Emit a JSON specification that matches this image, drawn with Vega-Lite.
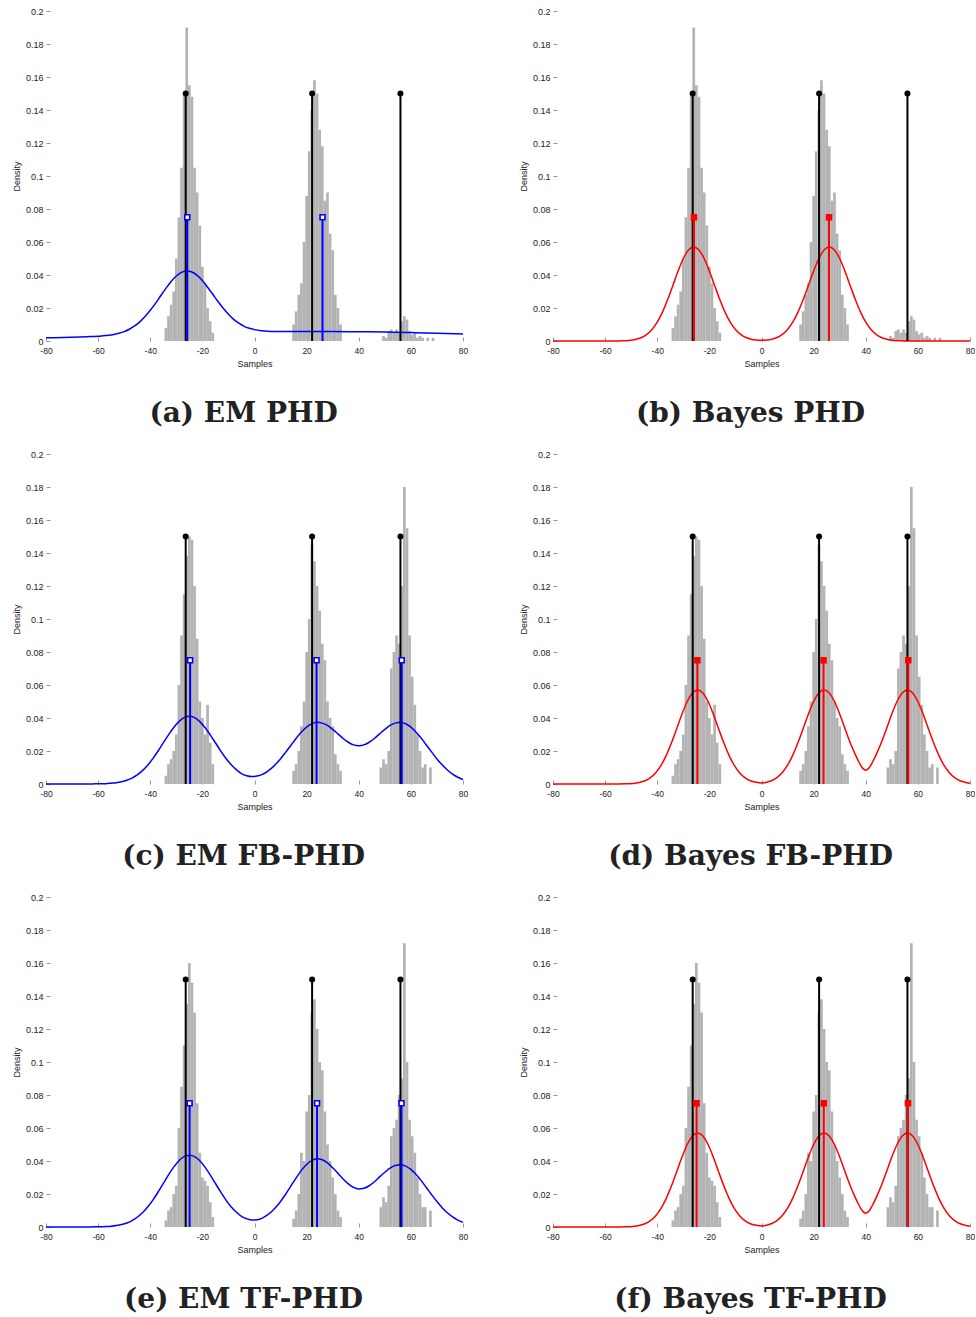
{
"$schema": "https://vega.github.io/schema/vega-lite/v6.json",
"padding": {"left": 12, "top": 7, "right": 0, "bottom": 0},
"config": {"view": {"stroke": null}, "font": "Liberation Sans"},
"data": {"values": [
{"k":"h","p":["a","b"],"x":-34,"y":0.008},{"k":"h","p":["a","b"],"x":-33,"y":0.015},{"k":"h","p":["a","b"],"x":-32,"y":0.022},{"k":"h","p":["a","b"],"x":-31,"y":0.03},{"k":"h","p":["a","b"],"x":-30,"y":0.05},{"k":"h","p":["a","b"],"x":-29,"y":0.075},{"k":"h","p":["a","b"],"x":-28,"y":0.105},{"k":"h","p":["a","b"],"x":-27,"y":0.15},{"k":"h","p":["a","b"],"x":-26,"y":0.19},{"k":"h","p":["a","b"],"x":-25,"y":0.155},{"k":"h","p":["a","b"],"x":-24,"y":0.148},{"k":"h","p":["a","b"],"x":-23,"y":0.105},{"k":"h","p":["a","b"],"x":-22,"y":0.09},{"k":"h","p":["a","b"],"x":-21,"y":0.07},{"k":"h","p":["a","b"],"x":-20,"y":0.045},{"k":"h","p":["a","b"],"x":-19,"y":0.035},{"k":"h","p":["a","b"],"x":-18,"y":0.02},{"k":"h","p":["a","b"],"x":-17,"y":0.012},{"k":"h","p":["a","b"],"x":-16,"y":0.005},
{"k":"h","p":["a","b"],"x":15,"y":0.01},{"k":"h","p":["a","b"],"x":16,"y":0.018},{"k":"h","p":["a","b"],"x":17,"y":0.028},{"k":"h","p":["a","b"],"x":18,"y":0.035},{"k":"h","p":["a","b"],"x":19,"y":0.06},{"k":"h","p":["a","b"],"x":20,"y":0.088},{"k":"h","p":["a","b"],"x":21,"y":0.115},{"k":"h","p":["a","b"],"x":22,"y":0.14},{"k":"h","p":["a","b"],"x":23,"y":0.158},{"k":"h","p":["a","b"],"x":24,"y":0.15},{"k":"h","p":["a","b"],"x":25,"y":0.128},{"k":"h","p":["a","b"],"x":26,"y":0.118},{"k":"h","p":["a","b"],"x":27,"y":0.085},{"k":"h","p":["a","b"],"x":28,"y":0.09},{"k":"h","p":["a","b"],"x":29,"y":0.065},{"k":"h","p":["a","b"],"x":30,"y":0.055},{"k":"h","p":["a","b"],"x":31,"y":0.028},{"k":"h","p":["a","b"],"x":32,"y":0.02},{"k":"h","p":["a","b"],"x":33,"y":0.01},
{"k":"h","p":["a","b"],"x":49.5,"y":0.003},{"k":"h","p":["a","b"],"x":50.5,"y":0.002},{"k":"h","p":["a","b"],"x":51.5,"y":0.006},{"k":"h","p":["a","b"],"x":52.5,"y":0.007},{"k":"h","p":["a","b"],"x":53.5,"y":0.005},{"k":"h","p":["a","b"],"x":54.5,"y":0.007},{"k":"h","p":["a","b"],"x":55.5,"y":0.005},{"k":"h","p":["a","b"],"x":56.5,"y":0.012},{"k":"h","p":["a","b"],"x":57.5,"y":0.015},{"k":"h","p":["a","b"],"x":58.5,"y":0.013},{"k":"h","p":["a","b"],"x":59.5,"y":0.006},{"k":"h","p":["a","b"],"x":60.5,"y":0.004},{"k":"h","p":["a","b"],"x":61.5,"y":0.005},{"k":"h","p":["a","b"],"x":62.5,"y":0.002},{"k":"h","p":["a","b"],"x":63.5,"y":0.003},{"k":"h","p":["a","b"],"x":64.5,"y":0.002},{"k":"h","p":["a","b"],"x":66.5,"y":0.002},{"k":"h","p":["a","b"],"x":68.5,"y":0.002},
{"k":"h","p":["c","d"],"x":-34,"y":0.005},{"k":"h","p":["c","d"],"x":-33,"y":0.012},{"k":"h","p":["c","d"],"x":-32,"y":0.015},{"k":"h","p":["c","d"],"x":-31,"y":0.02},{"k":"h","p":["c","d"],"x":-30,"y":0.03},{"k":"h","p":["c","d"],"x":-29,"y":0.06},{"k":"h","p":["c","d"],"x":-28,"y":0.09},{"k":"h","p":["c","d"],"x":-27,"y":0.115},{"k":"h","p":["c","d"],"x":-26,"y":0.138},{"k":"h","p":["c","d"],"x":-25,"y":0.15},{"k":"h","p":["c","d"],"x":-24,"y":0.148},{"k":"h","p":["c","d"],"x":-23,"y":0.12},{"k":"h","p":["c","d"],"x":-22,"y":0.088},{"k":"h","p":["c","d"],"x":-21,"y":0.05},{"k":"h","p":["c","d"],"x":-20,"y":0.04},{"k":"h","p":["c","d"],"x":-19,"y":0.03},{"k":"h","p":["c","d"],"x":-18,"y":0.048},{"k":"h","p":["c","d"],"x":-17,"y":0.025},{"k":"h","p":["c","d"],"x":-16,"y":0.012},
{"k":"h","p":["c","d"],"x":15,"y":0.008},{"k":"h","p":["c","d"],"x":16,"y":0.012},{"k":"h","p":["c","d"],"x":17,"y":0.02},{"k":"h","p":["c","d"],"x":18,"y":0.035},{"k":"h","p":["c","d"],"x":19,"y":0.05},{"k":"h","p":["c","d"],"x":20,"y":0.08},{"k":"h","p":["c","d"],"x":21,"y":0.1},{"k":"h","p":["c","d"],"x":22,"y":0.145},{"k":"h","p":["c","d"],"x":23,"y":0.135},{"k":"h","p":["c","d"],"x":24,"y":0.12},{"k":"h","p":["c","d"],"x":25,"y":0.105},{"k":"h","p":["c","d"],"x":26,"y":0.085},{"k":"h","p":["c","d"],"x":27,"y":0.075},{"k":"h","p":["c","d"],"x":28,"y":0.05},{"k":"h","p":["c","d"],"x":29,"y":0.04},{"k":"h","p":["c","d"],"x":30,"y":0.035},{"k":"h","p":["c","d"],"x":31,"y":0.018},{"k":"h","p":["c","d"],"x":32,"y":0.012},{"k":"h","p":["c","d"],"x":33,"y":0.008},
{"k":"h","p":["c","d"],"x":48.5,"y":0.01},{"k":"h","p":["c","d"],"x":49.5,"y":0.015},{"k":"h","p":["c","d"],"x":50.5,"y":0.012},{"k":"h","p":["c","d"],"x":51.5,"y":0.02},{"k":"h","p":["c","d"],"x":52.5,"y":0.07},{"k":"h","p":["c","d"],"x":53.5,"y":0.08},{"k":"h","p":["c","d"],"x":54.5,"y":0.09},{"k":"h","p":["c","d"],"x":55.5,"y":0.085},{"k":"h","p":["c","d"],"x":56.5,"y":0.12},{"k":"h","p":["c","d"],"x":57.5,"y":0.18},{"k":"h","p":["c","d"],"x":58.5,"y":0.155},{"k":"h","p":["c","d"],"x":59.5,"y":0.09},{"k":"h","p":["c","d"],"x":60.5,"y":0.065},{"k":"h","p":["c","d"],"x":61.5,"y":0.048},{"k":"h","p":["c","d"],"x":62.5,"y":0.03},{"k":"h","p":["c","d"],"x":63.5,"y":0.02},{"k":"h","p":["c","d"],"x":64.5,"y":0.01},{"k":"h","p":["c","d"],"x":65.5,"y":0.012},{"k":"h","p":["c","d"],"x":67.5,"y":0.01},
{"k":"h","p":["e","f"],"x":-34,"y":0.004},{"k":"h","p":["e","f"],"x":-33,"y":0.01},{"k":"h","p":["e","f"],"x":-32,"y":0.012},{"k":"h","p":["e","f"],"x":-31,"y":0.02},{"k":"h","p":["e","f"],"x":-30,"y":0.025},{"k":"h","p":["e","f"],"x":-29,"y":0.06},{"k":"h","p":["e","f"],"x":-28,"y":0.085},{"k":"h","p":["e","f"],"x":-27,"y":0.11},{"k":"h","p":["e","f"],"x":-26,"y":0.135},{"k":"h","p":["e","f"],"x":-25,"y":0.16},{"k":"h","p":["e","f"],"x":-24,"y":0.148},{"k":"h","p":["e","f"],"x":-23,"y":0.13},{"k":"h","p":["e","f"],"x":-22,"y":0.075},{"k":"h","p":["e","f"],"x":-21,"y":0.045},{"k":"h","p":["e","f"],"x":-20,"y":0.03},{"k":"h","p":["e","f"],"x":-19,"y":0.028},{"k":"h","p":["e","f"],"x":-18,"y":0.025},{"k":"h","p":["e","f"],"x":-17,"y":0.015},{"k":"h","p":["e","f"],"x":-16,"y":0.006},
{"k":"h","p":["e","f"],"x":15,"y":0.005},{"k":"h","p":["e","f"],"x":16,"y":0.01},{"k":"h","p":["e","f"],"x":17,"y":0.02},{"k":"h","p":["e","f"],"x":18,"y":0.045},{"k":"h","p":["e","f"],"x":19,"y":0.04},{"k":"h","p":["e","f"],"x":20,"y":0.07},{"k":"h","p":["e","f"],"x":21,"y":0.08},{"k":"h","p":["e","f"],"x":22,"y":0.13},{"k":"h","p":["e","f"],"x":23,"y":0.138},{"k":"h","p":["e","f"],"x":24,"y":0.12},{"k":"h","p":["e","f"],"x":25,"y":0.1},{"k":"h","p":["e","f"],"x":26,"y":0.095},{"k":"h","p":["e","f"],"x":27,"y":0.07},{"k":"h","p":["e","f"],"x":28,"y":0.05},{"k":"h","p":["e","f"],"x":29,"y":0.04},{"k":"h","p":["e","f"],"x":30,"y":0.03},{"k":"h","p":["e","f"],"x":31,"y":0.02},{"k":"h","p":["e","f"],"x":32,"y":0.01},{"k":"h","p":["e","f"],"x":33,"y":0.006},
{"k":"h","p":["e","f"],"x":48.5,"y":0.012},{"k":"h","p":["e","f"],"x":49.5,"y":0.018},{"k":"h","p":["e","f"],"x":50.5,"y":0.015},{"k":"h","p":["e","f"],"x":51.5,"y":0.025},{"k":"h","p":["e","f"],"x":52.5,"y":0.055},{"k":"h","p":["e","f"],"x":53.5,"y":0.06},{"k":"h","p":["e","f"],"x":54.5,"y":0.065},{"k":"h","p":["e","f"],"x":55.5,"y":0.08},{"k":"h","p":["e","f"],"x":56.5,"y":0.09},{"k":"h","p":["e","f"],"x":57.5,"y":0.172},{"k":"h","p":["e","f"],"x":58.5,"y":0.1},{"k":"h","p":["e","f"],"x":59.5,"y":0.065},{"k":"h","p":["e","f"],"x":60.5,"y":0.055},{"k":"h","p":["e","f"],"x":61.5,"y":0.045},{"k":"h","p":["e","f"],"x":62.5,"y":0.03},{"k":"h","p":["e","f"],"x":63.5,"y":0.02},{"k":"h","p":["e","f"],"x":64.5,"y":0.012},{"k":"h","p":["e","f"],"x":65.5,"y":0.012},{"k":"h","p":["e","f"],"x":67.5,"y":0.01},

{"k":"c","p":["a"],"m":"E","x":-80,"y":0.0019},{"k":"c","p":["a"],"m":"E","x":-70,"y":0.0023},{"k":"c","p":["a"],"m":"E","x":-64,"y":0.0026},{"k":"c","p":["a"],"m":"E","x":-60,"y":0.0029},{"k":"c","p":["a"],"m":"E","x":-58,"y":0.0032},{"k":"c","p":["a"],"m":"E","x":-56,"y":0.0035},{"k":"c","p":["a"],"m":"E","x":-54,"y":0.004},{"k":"c","p":["a"],"m":"E","x":-52,"y":0.0047},{"k":"c","p":["a"],"m":"E","x":-50,"y":0.0057},{"k":"c","p":["a"],"m":"E","x":-48,"y":0.0071},{"k":"c","p":["a"],"m":"E","x":-46,"y":0.0091},{"k":"c","p":["a"],"m":"E","x":-44,"y":0.0116},{"k":"c","p":["a"],"m":"E","x":-42,"y":0.0148},{"k":"c","p":["a"],"m":"E","x":-40,"y":0.0186},{"k":"c","p":["a"],"m":"E","x":-38,"y":0.0228},{"k":"c","p":["a"],"m":"E","x":-36,"y":0.0274},{"k":"c","p":["a"],"m":"E","x":-34,"y":0.0319},{"k":"c","p":["a"],"m":"E","x":-32,"y":0.0361},{"k":"c","p":["a"],"m":"E","x":-30,"y":0.0394},{"k":"c","p":["a"],"m":"E","x":-28,"y":0.0416},{"k":"c","p":["a"],"m":"E","x":-26,"y":0.0424},{"k":"c","p":["a"],"m":"E","x":-24,"y":0.0418},{"k":"c","p":["a"],"m":"E","x":-22,"y":0.0398},{"k":"c","p":["a"],"m":"E","x":-20,"y":0.0367},{"k":"c","p":["a"],"m":"E","x":-18,"y":0.0326},{"k":"c","p":["a"],"m":"E","x":-16,"y":0.0283},{"k":"c","p":["a"],"m":"E","x":-14,"y":0.0239},{"k":"c","p":["a"],"m":"E","x":-12,"y":0.0198},{"k":"c","p":["a"],"m":"E","x":-10,"y":0.0162},{"k":"c","p":["a"],"m":"E","x":-8,"y":0.0131},{"k":"c","p":["a"],"m":"E","x":-6,"y":0.0108},{"k":"c","p":["a"],"m":"E","x":-4,"y":0.0089},{"k":"c","p":["a"],"m":"E","x":-2,"y":0.0077},{"k":"c","p":["a"],"m":"E","x":0,"y":0.0069},{"k":"c","p":["a"],"m":"E","x":2,"y":0.0063},{"k":"c","p":["a"],"m":"E","x":4,"y":0.006},{"k":"c","p":["a"],"m":"E","x":6,"y":0.0058},{"k":"c","p":["a"],"m":"E","x":8,"y":0.0057},{"k":"c","p":["a"],"m":"E","x":10,"y":0.0057},{"k":"c","p":["a"],"m":"E","x":20,"y":0.0057},{"k":"c","p":["a"],"m":"E","x":30,"y":0.0057},{"k":"c","p":["a"],"m":"E","x":40,"y":0.0056},{"k":"c","p":["a"],"m":"E","x":50,"y":0.0054},{"k":"c","p":["a"],"m":"E","x":60,"y":0.0051},{"k":"c","p":["a"],"m":"E","x":70,"y":0.0047},{"k":"c","p":["a"],"m":"E","x":80,"y":0.0042},

{"k":"c","p":["b"],"m":"B","x":-80,"y":0},{"k":"c","p":["b"],"m":"B","x":-56,"y":0},{"k":"c","p":["b"],"m":"B","x":-54,"y":0.0001},{"k":"c","p":["b"],"m":"B","x":-52,"y":0.0002},{"k":"c","p":["b"],"m":"B","x":-50,"y":0.0005},{"k":"c","p":["b"],"m":"B","x":-48,"y":0.0011},{"k":"c","p":["b"],"m":"B","x":-46,"y":0.0021},{"k":"c","p":["b"],"m":"B","x":-44,"y":0.004},{"k":"c","p":["b"],"m":"B","x":-42,"y":0.007},{"k":"c","p":["b"],"m":"B","x":-40,"y":0.0114},{"k":"c","p":["b"],"m":"B","x":-38,"y":0.0175},{"k":"c","p":["b"],"m":"B","x":-36,"y":0.0251},{"k":"c","p":["b"],"m":"B","x":-34,"y":0.0337},{"k":"c","p":["b"],"m":"B","x":-32,"y":0.0424},{"k":"c","p":["b"],"m":"B","x":-30,"y":0.05},{"k":"c","p":["b"],"m":"B","x":-28,"y":0.0552},{"k":"c","p":["b"],"m":"B","x":-26,"y":0.057},{"k":"c","p":["b"],"m":"B","x":-24,"y":0.0552},{"k":"c","p":["b"],"m":"B","x":-22,"y":0.05},{"k":"c","p":["b"],"m":"B","x":-20,"y":0.0424},{"k":"c","p":["b"],"m":"B","x":-18,"y":0.0337},{"k":"c","p":["b"],"m":"B","x":-16,"y":0.0251},{"k":"c","p":["b"],"m":"B","x":-14,"y":0.0175},{"k":"c","p":["b"],"m":"B","x":-12,"y":0.0114},{"k":"c","p":["b"],"m":"B","x":-10,"y":0.007},{"k":"c","p":["b"],"m":"B","x":-8,"y":0.004},{"k":"c","p":["b"],"m":"B","x":-6,"y":0.0021},{"k":"c","p":["b"],"m":"B","x":-4,"y":0.0011},{"k":"c","p":["b"],"m":"B","x":-2,"y":0.0006},{"k":"c","p":["b"],"m":"B","x":0,"y":0.0004},{"k":"c","p":["b"],"m":"B","x":2,"y":0.0006},{"k":"c","p":["b"],"m":"B","x":4,"y":0.0011},{"k":"c","p":["b"],"m":"B","x":6,"y":0.0021},{"k":"c","p":["b"],"m":"B","x":8,"y":0.004},{"k":"c","p":["b"],"m":"B","x":10,"y":0.007},{"k":"c","p":["b"],"m":"B","x":12,"y":0.0114},{"k":"c","p":["b"],"m":"B","x":14,"y":0.0175},{"k":"c","p":["b"],"m":"B","x":16,"y":0.0251},{"k":"c","p":["b"],"m":"B","x":18,"y":0.0337},{"k":"c","p":["b"],"m":"B","x":20,"y":0.0424},{"k":"c","p":["b"],"m":"B","x":22,"y":0.05},{"k":"c","p":["b"],"m":"B","x":24,"y":0.0552},{"k":"c","p":["b"],"m":"B","x":26,"y":0.057},{"k":"c","p":["b"],"m":"B","x":28,"y":0.0552},{"k":"c","p":["b"],"m":"B","x":30,"y":0.05},{"k":"c","p":["b"],"m":"B","x":32,"y":0.0424},{"k":"c","p":["b"],"m":"B","x":34,"y":0.0337},{"k":"c","p":["b"],"m":"B","x":36,"y":0.0251},{"k":"c","p":["b"],"m":"B","x":38,"y":0.0175},{"k":"c","p":["b"],"m":"B","x":40,"y":0.0114},{"k":"c","p":["b"],"m":"B","x":42,"y":0.007},{"k":"c","p":["b"],"m":"B","x":44,"y":0.004},{"k":"c","p":["b"],"m":"B","x":46,"y":0.0021},{"k":"c","p":["b"],"m":"B","x":48,"y":0.0011},{"k":"c","p":["b"],"m":"B","x":50,"y":0.0005},{"k":"c","p":["b"],"m":"B","x":52,"y":0.0002},{"k":"c","p":["b"],"m":"B","x":54,"y":0.0001},{"k":"c","p":["b"],"m":"B","x":56,"y":0},{"k":"c","p":["b"],"m":"B","x":80,"y":0},

{"k":"c","p":["c"],"m":"E","x":-80,"y":0},{"k":"c","p":["c"],"m":"E","x":-65,"y":0},{"k":"c","p":["c"],"m":"E","x":-61,"y":0.0001},{"k":"c","p":["c"],"m":"E","x":-57,"y":0.0002},{"k":"c","p":["c"],"m":"E","x":-55,"y":0.0005},{"k":"c","p":["c"],"m":"E","x":-53,"y":0.0008},{"k":"c","p":["c"],"m":"E","x":-51,"y":0.0014},{"k":"c","p":["c"],"m":"E","x":-49,"y":0.0023},{"k":"c","p":["c"],"m":"E","x":-47,"y":0.0036},{"k":"c","p":["c"],"m":"E","x":-45,"y":0.0055},{"k":"c","p":["c"],"m":"E","x":-43,"y":0.0081},{"k":"c","p":["c"],"m":"E","x":-41,"y":0.0114},{"k":"c","p":["c"],"m":"E","x":-39,"y":0.0154},{"k":"c","p":["c"],"m":"E","x":-37,"y":0.02},{"k":"c","p":["c"],"m":"E","x":-35,"y":0.0249},{"k":"c","p":["c"],"m":"E","x":-33,"y":0.0298},{"k":"c","p":["c"],"m":"E","x":-31,"y":0.0342},{"k":"c","p":["c"],"m":"E","x":-29,"y":0.0378},{"k":"c","p":["c"],"m":"E","x":-27,"y":0.0402},{"k":"c","p":["c"],"m":"E","x":-25,"y":0.041},{"k":"c","p":["c"],"m":"E","x":-23,"y":0.0402},{"k":"c","p":["c"],"m":"E","x":-21,"y":0.0378},{"k":"c","p":["c"],"m":"E","x":-19,"y":0.0342},{"k":"c","p":["c"],"m":"E","x":-17,"y":0.0298},{"k":"c","p":["c"],"m":"E","x":-15,"y":0.025},{"k":"c","p":["c"],"m":"E","x":-13,"y":0.0201},{"k":"c","p":["c"],"m":"E","x":-11,"y":0.0156},{"k":"c","p":["c"],"m":"E","x":-9,"y":0.0118},{"k":"c","p":["c"],"m":"E","x":-7,"y":0.0087},{"k":"c","p":["c"],"m":"E","x":-5,"y":0.0063},{"k":"c","p":["c"],"m":"E","x":-3,"y":0.005},{"k":"c","p":["c"],"m":"E","x":-1,"y":0.0045},{"k":"c","p":["c"],"m":"E","x":1,"y":0.0048},{"k":"c","p":["c"],"m":"E","x":3,"y":0.0058},{"k":"c","p":["c"],"m":"E","x":5,"y":0.0077},{"k":"c","p":["c"],"m":"E","x":7,"y":0.0102},{"k":"c","p":["c"],"m":"E","x":9,"y":0.0135},{"k":"c","p":["c"],"m":"E","x":10,"y":0.0153},{"k":"c","p":["c"],"m":"E","x":12,"y":0.0193},{"k":"c","p":["c"],"m":"E","x":14,"y":0.0235},{"k":"c","p":["c"],"m":"E","x":16,"y":0.0277},{"k":"c","p":["c"],"m":"E","x":18,"y":0.0315},{"k":"c","p":["c"],"m":"E","x":20,"y":0.0345},{"k":"c","p":["c"],"m":"E","x":22,"y":0.0365},{"k":"c","p":["c"],"m":"E","x":24,"y":0.0374},{"k":"c","p":["c"],"m":"E","x":26,"y":0.0369},{"k":"c","p":["c"],"m":"E","x":28,"y":0.0355},{"k":"c","p":["c"],"m":"E","x":30,"y":0.0331},{"k":"c","p":["c"],"m":"E","x":32,"y":0.0304},{"k":"c","p":["c"],"m":"E","x":34,"y":0.0276},{"k":"c","p":["c"],"m":"E","x":36,"y":0.0253},{"k":"c","p":["c"],"m":"E","x":38,"y":0.0237},{"k":"c","p":["c"],"m":"E","x":40,"y":0.0232},{"k":"c","p":["c"],"m":"E","x":42,"y":0.0237},{"k":"c","p":["c"],"m":"E","x":44,"y":0.0253},{"k":"c","p":["c"],"m":"E","x":46,"y":0.0276},{"k":"c","p":["c"],"m":"E","x":48,"y":0.0304},{"k":"c","p":["c"],"m":"E","x":50,"y":0.0331},{"k":"c","p":["c"],"m":"E","x":52,"y":0.0355},{"k":"c","p":["c"],"m":"E","x":54,"y":0.0369},{"k":"c","p":["c"],"m":"E","x":56,"y":0.0374},{"k":"c","p":["c"],"m":"E","x":58,"y":0.0365},{"k":"c","p":["c"],"m":"E","x":60,"y":0.0345},{"k":"c","p":["c"],"m":"E","x":62,"y":0.0314},{"k":"c","p":["c"],"m":"E","x":64,"y":0.0277},{"k":"c","p":["c"],"m":"E","x":66,"y":0.0235},{"k":"c","p":["c"],"m":"E","x":68,"y":0.0193},{"k":"c","p":["c"],"m":"E","x":70,"y":0.0152},{"k":"c","p":["c"],"m":"E","x":72,"y":0.0116},{"k":"c","p":["c"],"m":"E","x":74,"y":0.0085},{"k":"c","p":["c"],"m":"E","x":76,"y":0.006},{"k":"c","p":["c"],"m":"E","x":78,"y":0.0041},{"k":"c","p":["c"],"m":"E","x":80,"y":0.0027},

{"k":"c","p":["d","f"],"m":"B","x":-80,"y":0},{"k":"c","p":["d","f"],"m":"B","x":-56.5,"y":0},{"k":"c","p":["d","f"],"m":"B","x":-52.5,"y":0.0001},{"k":"c","p":["d","f"],"m":"B","x":-50.5,"y":0.0002},{"k":"c","p":["d","f"],"m":"B","x":-48.5,"y":0.0005},{"k":"c","p":["d","f"],"m":"B","x":-46.5,"y":0.0011},{"k":"c","p":["d","f"],"m":"B","x":-44.5,"y":0.0021},{"k":"c","p":["d","f"],"m":"B","x":-42.5,"y":0.004},{"k":"c","p":["d","f"],"m":"B","x":-40.5,"y":0.007},{"k":"c","p":["d","f"],"m":"B","x":-38.5,"y":0.0114},{"k":"c","p":["d","f"],"m":"B","x":-36.5,"y":0.0175},{"k":"c","p":["d","f"],"m":"B","x":-34.5,"y":0.0251},{"k":"c","p":["d","f"],"m":"B","x":-32.5,"y":0.0337},{"k":"c","p":["d","f"],"m":"B","x":-30.5,"y":0.0424},{"k":"c","p":["d","f"],"m":"B","x":-28.5,"y":0.05},{"k":"c","p":["d","f"],"m":"B","x":-26.5,"y":0.0552},{"k":"c","p":["d","f"],"m":"B","x":-24.5,"y":0.057},{"k":"c","p":["d","f"],"m":"B","x":-22.5,"y":0.0552},{"k":"c","p":["d","f"],"m":"B","x":-20.5,"y":0.05},{"k":"c","p":["d","f"],"m":"B","x":-18.5,"y":0.0424},{"k":"c","p":["d","f"],"m":"B","x":-16.5,"y":0.0337},{"k":"c","p":["d","f"],"m":"B","x":-14.5,"y":0.0251},{"k":"c","p":["d","f"],"m":"B","x":-12.5,"y":0.0175},{"k":"c","p":["d","f"],"m":"B","x":-10.5,"y":0.0114},{"k":"c","p":["d","f"],"m":"B","x":-8.5,"y":0.007},{"k":"c","p":["d","f"],"m":"B","x":-6.5,"y":0.004},{"k":"c","p":["d","f"],"m":"B","x":-4.5,"y":0.0021},{"k":"c","p":["d","f"],"m":"B","x":-2,"y":0.001},{"k":"c","p":["d","f"],"m":"B","x":0,"y":0.0006},{"k":"c","p":["d","f"],"m":"B","x":2,"y":0.0011},{"k":"c","p":["d","f"],"m":"B","x":4,"y":0.0021},{"k":"c","p":["d","f"],"m":"B","x":6,"y":0.004},{"k":"c","p":["d","f"],"m":"B","x":8,"y":0.007},{"k":"c","p":["d","f"],"m":"B","x":10,"y":0.0114},{"k":"c","p":["d","f"],"m":"B","x":12,"y":0.0175},{"k":"c","p":["d","f"],"m":"B","x":14,"y":0.0251},{"k":"c","p":["d","f"],"m":"B","x":16,"y":0.0337},{"k":"c","p":["d","f"],"m":"B","x":18,"y":0.0424},{"k":"c","p":["d","f"],"m":"B","x":20,"y":0.05},{"k":"c","p":["d","f"],"m":"B","x":22,"y":0.0552},{"k":"c","p":["d","f"],"m":"B","x":24,"y":0.057},{"k":"c","p":["d","f"],"m":"B","x":26,"y":0.0552},{"k":"c","p":["d","f"],"m":"B","x":28,"y":0.05},{"k":"c","p":["d","f"],"m":"B","x":30,"y":0.0424},{"k":"c","p":["d","f"],"m":"B","x":32,"y":0.0337},{"k":"c","p":["d","f"],"m":"B","x":34,"y":0.0251},{"k":"c","p":["d","f"],"m":"B","x":36,"y":0.0178},{"k":"c","p":["d","f"],"m":"B","x":37,"y":0.0145},{"k":"c","p":["d","f"],"m":"B","x":38,"y":0.0115},{"k":"c","p":["d","f"],"m":"B","x":39,"y":0.0093},{"k":"c","p":["d","f"],"m":"B","x":40,"y":0.0084},{"k":"c","p":["d","f"],"m":"B","x":41,"y":0.0093},{"k":"c","p":["d","f"],"m":"B","x":42,"y":0.0115},{"k":"c","p":["d","f"],"m":"B","x":43,"y":0.0145},{"k":"c","p":["d","f"],"m":"B","x":44,"y":0.0178},{"k":"c","p":["d","f"],"m":"B","x":46,"y":0.0251},{"k":"c","p":["d","f"],"m":"B","x":48,"y":0.0337},{"k":"c","p":["d","f"],"m":"B","x":50,"y":0.0424},{"k":"c","p":["d","f"],"m":"B","x":52,"y":0.05},{"k":"c","p":["d","f"],"m":"B","x":54,"y":0.0552},{"k":"c","p":["d","f"],"m":"B","x":56,"y":0.057},{"k":"c","p":["d","f"],"m":"B","x":58,"y":0.0552},{"k":"c","p":["d","f"],"m":"B","x":60,"y":0.05},{"k":"c","p":["d","f"],"m":"B","x":62,"y":0.0424},{"k":"c","p":["d","f"],"m":"B","x":64,"y":0.0337},{"k":"c","p":["d","f"],"m":"B","x":66,"y":0.0251},{"k":"c","p":["d","f"],"m":"B","x":68,"y":0.0175},{"k":"c","p":["d","f"],"m":"B","x":70,"y":0.0114},{"k":"c","p":["d","f"],"m":"B","x":72,"y":0.007},{"k":"c","p":["d","f"],"m":"B","x":74,"y":0.004},{"k":"c","p":["d","f"],"m":"B","x":76,"y":0.0021},{"k":"c","p":["d","f"],"m":"B","x":78,"y":0.0011},{"k":"c","p":["d","f"],"m":"B","x":80,"y":0.0005},

{"k":"c","p":["e"],"m":"E","x":-80,"y":0},{"k":"c","p":["e"],"m":"E","x":-65,"y":0},{"k":"c","p":["e"],"m":"E","x":-61,"y":0.0001},{"k":"c","p":["e"],"m":"E","x":-57,"y":0.0003},{"k":"c","p":["e"],"m":"E","x":-55,"y":0.0005},{"k":"c","p":["e"],"m":"E","x":-53,"y":0.0009},{"k":"c","p":["e"],"m":"E","x":-51,"y":0.0015},{"k":"c","p":["e"],"m":"E","x":-49,"y":0.0024},{"k":"c","p":["e"],"m":"E","x":-47,"y":0.0039},{"k":"c","p":["e"],"m":"E","x":-45,"y":0.0059},{"k":"c","p":["e"],"m":"E","x":-43,"y":0.0086},{"k":"c","p":["e"],"m":"E","x":-41,"y":0.0121},{"k":"c","p":["e"],"m":"E","x":-39,"y":0.0163},{"k":"c","p":["e"],"m":"E","x":-37,"y":0.0212},{"k":"c","p":["e"],"m":"E","x":-35,"y":0.0264},{"k":"c","p":["e"],"m":"E","x":-33,"y":0.0316},{"k":"c","p":["e"],"m":"E","x":-31,"y":0.0363},{"k":"c","p":["e"],"m":"E","x":-29,"y":0.0402},{"k":"c","p":["e"],"m":"E","x":-27,"y":0.0426},{"k":"c","p":["e"],"m":"E","x":-25,"y":0.0435},{"k":"c","p":["e"],"m":"E","x":-23,"y":0.0426},{"k":"c","p":["e"],"m":"E","x":-21,"y":0.0402},{"k":"c","p":["e"],"m":"E","x":-19,"y":0.0363},{"k":"c","p":["e"],"m":"E","x":-17,"y":0.0316},{"k":"c","p":["e"],"m":"E","x":-15,"y":0.0264},{"k":"c","p":["e"],"m":"E","x":-13,"y":0.0213},{"k":"c","p":["e"],"m":"E","x":-11,"y":0.0164},{"k":"c","p":["e"],"m":"E","x":-9,"y":0.0123},{"k":"c","p":["e"],"m":"E","x":-7,"y":0.0091},{"k":"c","p":["e"],"m":"E","x":-5,"y":0.0065},{"k":"c","p":["e"],"m":"E","x":-3,"y":0.005},{"k":"c","p":["e"],"m":"E","x":-1,"y":0.0042},{"k":"c","p":["e"],"m":"E","x":1,"y":0.0044},{"k":"c","p":["e"],"m":"E","x":3,"y":0.0054},{"k":"c","p":["e"],"m":"E","x":5,"y":0.0073},{"k":"c","p":["e"],"m":"E","x":7,"y":0.01},{"k":"c","p":["e"],"m":"E","x":9,"y":0.0135},{"k":"c","p":["e"],"m":"E","x":10,"y":0.0155},{"k":"c","p":["e"],"m":"E","x":12,"y":0.02},{"k":"c","p":["e"],"m":"E","x":14,"y":0.0249},{"k":"c","p":["e"],"m":"E","x":16,"y":0.0298},{"k":"c","p":["e"],"m":"E","x":18,"y":0.0343},{"k":"c","p":["e"],"m":"E","x":20,"y":0.0379},{"k":"c","p":["e"],"m":"E","x":22,"y":0.0404},{"k":"c","p":["e"],"m":"E","x":24,"y":0.0414},{"k":"c","p":["e"],"m":"E","x":26,"y":0.0408},{"k":"c","p":["e"],"m":"E","x":28,"y":0.0389},{"k":"c","p":["e"],"m":"E","x":30,"y":0.0359},{"k":"c","p":["e"],"m":"E","x":32,"y":0.0326},{"k":"c","p":["e"],"m":"E","x":34,"y":0.0291},{"k":"c","p":["e"],"m":"E","x":36,"y":0.0261},{"k":"c","p":["e"],"m":"E","x":38,"y":0.024},{"k":"c","p":["e"],"m":"E","x":40,"y":0.0231},{"k":"c","p":["e"],"m":"E","x":42,"y":0.0235},{"k":"c","p":["e"],"m":"E","x":44,"y":0.025},{"k":"c","p":["e"],"m":"E","x":46,"y":0.0274},{"k":"c","p":["e"],"m":"E","x":48,"y":0.0304},{"k":"c","p":["e"],"m":"E","x":50,"y":0.0332},{"k":"c","p":["e"],"m":"E","x":52,"y":0.0357},{"k":"c","p":["e"],"m":"E","x":54,"y":0.0373},{"k":"c","p":["e"],"m":"E","x":56,"y":0.0377},{"k":"c","p":["e"],"m":"E","x":58,"y":0.0369},{"k":"c","p":["e"],"m":"E","x":60,"y":0.0349},{"k":"c","p":["e"],"m":"E","x":62,"y":0.0318},{"k":"c","p":["e"],"m":"E","x":64,"y":0.0281},{"k":"c","p":["e"],"m":"E","x":66,"y":0.0238},{"k":"c","p":["e"],"m":"E","x":68,"y":0.0195},{"k":"c","p":["e"],"m":"E","x":70,"y":0.0154},{"k":"c","p":["e"],"m":"E","x":72,"y":0.0117},{"k":"c","p":["e"],"m":"E","x":74,"y":0.0086},{"k":"c","p":["e"],"m":"E","x":76,"y":0.0061},{"k":"c","p":["e"],"m":"E","x":78,"y":0.0042},{"k":"c","p":["e"],"m":"E","x":80,"y":0.0028},

{"k":"t","p":["a","b","c","d","e","f"],"x":-26.4,"y":0.15},{"k":"t","p":["a","b","c","d","e","f"],"x":22.1,"y":0.15},{"k":"t","p":["a","b","c","d","e","f"],"x":56.0,"y":0.15},

{"k":"e","p":["a"],"m":"E","x":-25.8,"y":0.075},{"k":"e","p":["a"],"m":"E","x":26.1,"y":0.075},
{"k":"e","p":["b"],"m":"B","x":-25.9,"y":0.075},{"k":"e","p":["b"],"m":"B","x":25.9,"y":0.075},
{"k":"e","p":["c"],"m":"E","x":-24.7,"y":0.075},{"k":"e","p":["c"],"m":"E","x":23.8,"y":0.075},{"k":"e","p":["c"],"m":"E","x":56.5,"y":0.075},
{"k":"e","p":["d"],"m":"B","x":-24.6,"y":0.075},{"k":"e","p":["d"],"m":"B","x":23.8,"y":0.075},{"k":"e","p":["d"],"m":"B","x":56.3,"y":0.075},
{"k":"e","p":["e"],"m":"E","x":-24.9,"y":0.075},{"k":"e","p":["e"],"m":"E","x":24.0,"y":0.075},{"k":"e","p":["e"],"m":"E","x":56.4,"y":0.075},
{"k":"e","p":["f"],"m":"B","x":-24.9,"y":0.075},{"k":"e","p":["f"],"m":"B","x":23.9,"y":0.075},{"k":"e","p":["f"],"m":"B","x":56.2,"y":0.075}
]},
"transform": [{"flatten": ["p"]}],
"facet": {"field": "p", "type": "nominal", "title": null,
  "header": {"labelOrient": "bottom", "labelFont": "DejaVu Serif", "labelFontWeight": "bold", "labelFontSize": 28, "labelColor": "#222222", "labelPadding": 31,
    "labelExpr": "datum.value == 'a' ? '(a) EM PHD\u2800' : datum.value == 'b' ? '(b) Bayes PHD\u2800' : datum.value == 'c' ? '(c) EM FB-PHD\u2800' : datum.value == 'd' ? '(d) Bayes FB-PHD\u2800' : datum.value == 'e' ? '(e) EM TF-PHD\u2800' : '(f) Bayes TF-PHD\u2800'"}},
"columns": 2,
"spacing": {"column": 51, "row": 22},
"resolve": {"axis": {"x": "independent", "y": "independent"}},
"spec": {
  "width": 417, "height": 330,
  "encoding": {
    "x": {"field": "x", "type": "quantitative", "scale": {"domain": [-80, 80], "nice": false, "zero": false, "padding": 0},
      "axis": {"title": "Samples", "values": [-80,-60,-40,-20,0,20,40,60,80], "labelExpr": "'' + datum.value", "domain": false, "grid": false, "offset": -4, "tickSize": 4, "tickColor": "#999999", "labelFontSize": 8.5, "labelColor": "#222222", "labelPadding": 5, "titleFontSize": 9, "titleFontWeight": "normal", "titleColor": "#222222", "titlePadding": 5, "labelFlush": false}},
    "y": {"field": "y", "type": "quantitative", "scale": {"domain": [0, 0.2], "nice": false, "padding": 0},
      "axis": {"title": "Density", "values": [0,0.02,0.04,0.06,0.08,0.1,0.12,0.14,0.16,0.18,0.2], "labelExpr": "'' + datum.value", "domain": false, "grid": false, "offset": -4, "tickSize": 4, "tickColor": "#999999", "labelFontSize": 9, "labelColor": "#222222", "labelPadding": 3, "titleFontSize": 9, "titleFontWeight": "normal", "titleColor": "#222222", "titlePadding": 4, "labelFlush": false}}
  },
  "layer": [
    {"transform": [{"filter": "datum.k == 'h'"}], "mark": {"type": "bar", "orient": "vertical", "size": 2.7, "color": "#b3b3b3", "clip": false}},
    {"transform": [{"filter": "datum.k == 'c'"}], "mark": {"type": "line", "strokeWidth": 1.5, "interpolate": "monotone"},
      "encoding": {"color": {"field": "m", "type": "nominal", "scale": {"domain": ["E","B"], "range": ["#0000ff","#ff0000"]}, "legend": null}}},
    {"transform": [{"filter": "datum.k == 't'"}], "mark": {"type": "rule", "color": "#000000", "strokeWidth": 2},
      "encoding": {"y2": {"datum": 0}}},
    {"transform": [{"filter": "datum.k == 'e'"}], "mark": {"type": "rule", "strokeWidth": 2},
      "encoding": {"y2": {"datum": 0}, "color": {"field": "m", "type": "nominal", "scale": {"domain": ["E","B"], "range": ["#0000ff","#ff0000"]}, "legend": null}}},
    {"transform": [{"filter": "datum.k == 't'"}], "mark": {"type": "point", "shape": "circle", "size": 36, "filled": true, "color": "#000000", "opacity": 1}},
    {"transform": [{"filter": "datum.k == 'e'"}], "mark": {"type": "point", "shape": "square", "size": 24, "strokeWidth": 1.6, "opacity": 1},
      "encoding": {"fill": {"field": "m", "type": "nominal", "scale": {"domain": ["E","B"], "range": ["#ffffff","#ff0000"]}, "legend": null},
        "stroke": {"field": "m", "type": "nominal", "scale": {"domain": ["E","B"], "range": ["#0000ff","#ff0000"]}, "legend": null}}}
  ]
}
}
